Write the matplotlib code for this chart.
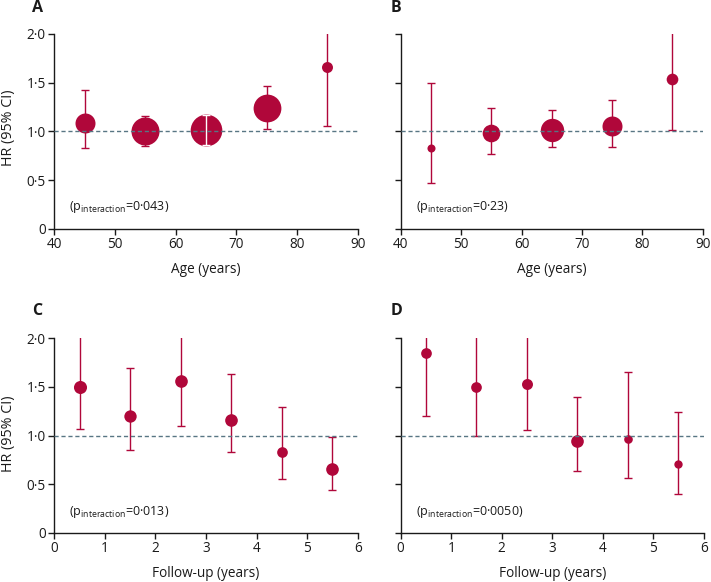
import matplotlib
matplotlib.use('Agg')
import matplotlib.pyplot as plt

plt.rcParams['font.family'] = ['Open Sans', 'DejaVu Sans']
plt.rcParams['mathtext.fontset'] = 'custom'
plt.rcParams['mathtext.rm'] = 'Open Sans'

RED = '#b0073a'
REF = '#587684'
INK = '#1a1a1a'

# Panel A: age, all
age = [45, 55, 65, 75, 85]
a_hr = [1.09, 1.00, 1.01, 1.24, 1.66]
a_lo = [0.83, 0.85, 0.86, 1.02, 1.06]
a_hi = [1.42, 1.16, 1.17, 1.47, 2.30]
a_size = [14.4, 20.2, 22.8, 20.0, 7.9]
a_p = '0·043'

# Panel B: age, second group
b_hr = [0.83, 0.98, 1.01, 1.05, 1.54]
b_lo = [0.47, 0.77, 0.84, 0.84, 1.01]
b_hi = [1.50, 1.24, 1.22, 1.32, 2.30]
b_size = [5.8, 12.7, 16.8, 14.4, 8.4]
b_p = '0·23'

# Panel C: follow-up, all
follow = [0.5, 1.5, 2.5, 3.5, 4.5, 5.5]
c_hr = [1.50, 1.20, 1.56, 1.16, 0.83, 0.66]
c_lo = [1.07, 0.85, 1.10, 0.83, 0.55, 0.44]
c_hi = [2.30, 1.69, 2.30, 1.63, 1.29, 0.99]
c_size = [9.4, 8.9, 9.1, 9.1, 7.7, 9.1]
c_p = '0·013'

# Panel D: follow-up, second group
d_hr = [1.85, 1.50, 1.53, 0.95, 0.97, 0.71]
d_lo = [1.20, 1.00, 1.06, 0.64, 0.56, 0.40]
d_hi = [2.30, 2.30, 2.30, 1.40, 1.65, 1.24]
d_size = [7.7, 7.7, 7.9, 9.1, 6.2, 6.0]
d_p = '0·0050'

y_ticks = [0, 0.5, 1.0, 1.5, 2.0]
y_labels = ['0', '0·5', '1·0', '1·5', '2·0']


def draw_panel(ax, x, hr, lo, hi, size, p, xlim, xticks, xlabel,
               show_y=True, white_ci=None):
  for xi, h, l, u, s in zip(x, hr, lo, hi, size):
    ax.errorbar([xi], [h], yerr=[[h - l], [u - h]], fmt='none', ecolor=RED,
                elinewidth=1.0, capsize=2.9, capthick=1.0, zorder=2)
    ax.plot([xi], [h], 'o', ms=s, color=RED, mec='none', zorder=3)
  if white_ci is not None:
    i = white_ci
    ax.errorbar([x[i]], [hr[i]], yerr=[[hr[i] - lo[i]], [hi[i] - hr[i]]],
                fmt='none', ecolor='white', elinewidth=1.0, capsize=2.9,
                capthick=1.0, zorder=4)
  ax.axhline(1.0, color=REF, lw=1.0, ls=(0, (3, 2)), zorder=5)
  ax.set_xlim(*xlim)
  ax.set_ylim(0, 2)
  ax.set_xticks(xticks)
  ax.set_yticks(y_ticks)
  ax.set_yticklabels(y_labels if show_y else [])
  for side in ('top', 'right'):
    ax.spines[side].set_visible(False)
  for side in ('left', 'bottom'):
    ax.spines[side].set_linewidth(1.0)
    ax.spines[side].set_color(INK)
  ax.tick_params(direction='out', length=4, width=1.0, labelsize=9.8,
                 pad=2, colors=INK)
  ax.set_xlabel(xlabel, fontsize=9.8, labelpad=7, color=INK)
  ax.text(0.05, 0.11, r'(p$_{\mathregular{interaction}}$=' + p + ')',
          transform=ax.transAxes, fontsize=9, va='center', ha='left',
          color=INK)


fig = plt.figure(figsize=(7.11, 5.82), dpi=100)
ax_a = fig.add_axes([0.0764, 0.607, 0.4266, 0.3346])
ax_b = fig.add_axes([0.5636, 0.607, 0.4247, 0.3346])
ax_c = fig.add_axes([0.0764, 0.0842, 0.4266, 0.3345])
ax_d = fig.add_axes([0.5636, 0.0842, 0.4261, 0.3345])

draw_panel(ax_a, age, a_hr, a_lo, a_hi, a_size, a_p, (40, 90),
           range(40, 91, 10), 'Age (years)', white_ci=2)
draw_panel(ax_b, age, b_hr, b_lo, b_hi, b_size, b_p, (40, 90),
           range(40, 91, 10), 'Age (years)', show_y=False)
draw_panel(ax_c, follow, c_hr, c_lo, c_hi, c_size, c_p, (0, 6),
           range(0, 7), 'Follow-up (years)')
draw_panel(ax_d, follow, d_hr, d_lo, d_hi, d_size, d_p, (0, 6),
           range(0, 7), 'Follow-up (years)', show_y=False)

for y in (0.78, 0.254):
  fig.text(0.002, y, 'HR (95% CI)', rotation=90, fontsize=10.3, ha='left',
           va='center', color=INK)

for letter, x, y in (('A', 0.045, 0.986), ('B', 0.549, 0.986),
                     ('C', 0.045, 0.466), ('D', 0.549, 0.466)):
  fig.text(x, y, letter, fontsize=11.5, fontweight='bold', va='center',
           ha='left', color=INK)

fig.savefig('out.png', dpi=100)
